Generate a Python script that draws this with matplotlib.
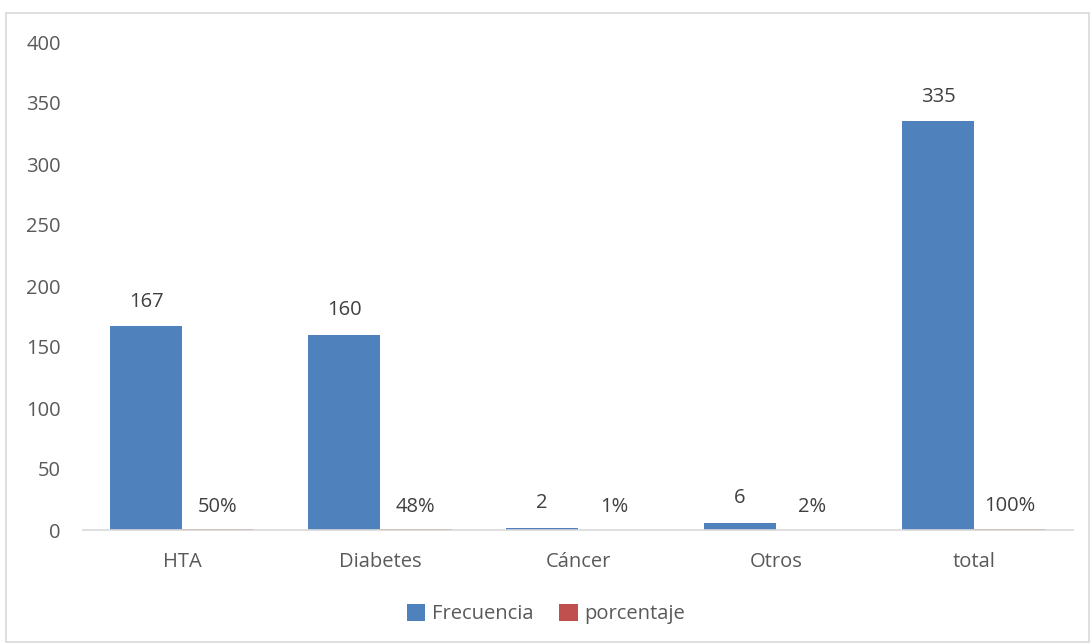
import matplotlib
matplotlib.use("Agg")
import matplotlib.pyplot as plt
from matplotlib.patches import Rectangle
import numpy as np

categories = ["HTA", "Diabetes", "Cáncer", "Otros", "total"]
frecuencia = [167, 160, 2, 6, 335]
porcentaje = [0.50, 0.48, 0.01, 0.02, 1.00]
yticks = [0, 50, 100, 150, 200, 250, 300, 350, 400]

plt.rcParams['font.family'] = ['Open Sans', 'DejaVu Sans']
txt = '#595959'
blue = '#4F81BD'
red = '#C0504D'

fig = plt.figure(figsize=(10.92, 6.44), dpi=100)
fig.patches.append(Rectangle((6/1092, 2/644), 1083/1092, 629/644, transform=fig.transFigure,
                             fill=False, edgecolor='#D9D9D9', linewidth=1.2))
ax = fig.add_axes([83/1092, 1-530/644, 990/1092, 488/644])

x = np.arange(len(categories))
w = 0.363
ax.bar(x - w/2, frecuencia, w, color=blue, label='Frecuencia')
ax.bar(x + w/2, porcentaje, w, color=red, label='porcentaje')

fs = 14.5
for xi, v in zip(x, frecuencia):
    ax.text(xi - w/2, v + 12, f"{v}", ha='center', va='bottom', fontsize=fs, color='#404040')
for xi, v in zip(x, porcentaje):
    ax.text(xi + w/2, v + 10.5, f"{v*100:.0f}%", ha='center', va='bottom', fontsize=fs, color='#404040')

ax.set_xlim(-0.5, len(categories) - 0.5)
ax.set_ylim(0, 400)
ax.set_yticks(yticks)
ax.set_xticks(x)
ax.set_xticklabels(categories)
ax.tick_params(axis='both', length=0, labelsize=fs, labelcolor=txt)
ax.tick_params(axis='y', pad=16)
ax.tick_params(axis='x', pad=16)
for s in ['top', 'right', 'left']:
    ax.spines[s].set_visible(False)
ax.spines['bottom'].set_color('#D9D9D9')
ax.spines['bottom'].set_linewidth(1.2)

fig.legend(loc='center', bbox_to_anchor=(0.5, 1-614/644), ncol=2, frameon=False,
           fontsize=fs, handlelength=0.9, handleheight=0.9, handletextpad=0.35,
           columnspacing=1.3, labelcolor=txt)

fig.savefig('out.png', dpi=100)
